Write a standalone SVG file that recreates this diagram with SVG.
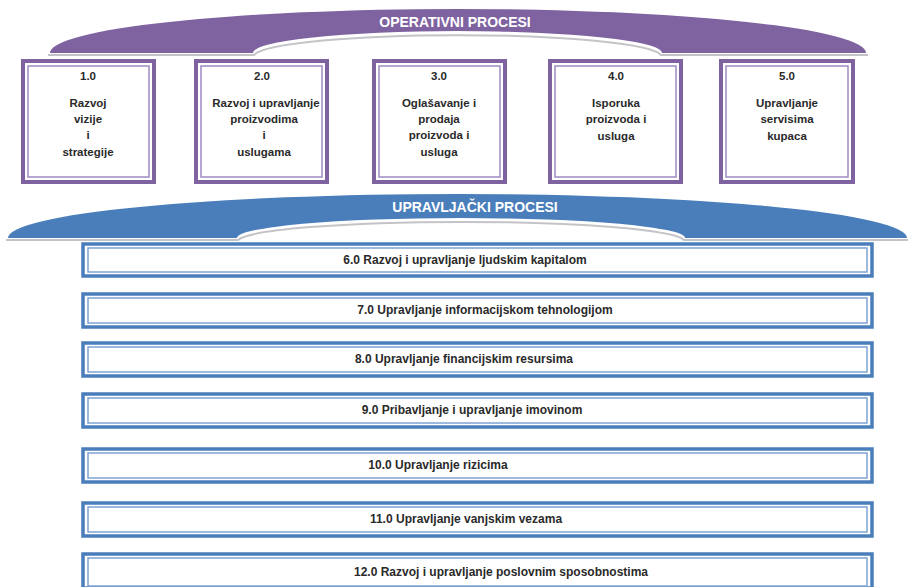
<svg xmlns="http://www.w3.org/2000/svg" width="908" height="587" viewBox="0 0 908 587">
<style>
.op{fill:#fff;stroke:#7f63a1;stroke-width:4}
.opi{fill:none;stroke:#9f8bc2;stroke-width:1.5}
.up{fill:#fff;stroke:#4a7ebb;stroke-width:3.5}
.upi{fill:none;stroke:#7ea3d3;stroke-width:1.5}
.t{font-family:"Liberation Sans",Arial,sans-serif;font-weight:bold;font-size:11.5px;fill:#2a2a2a;text-anchor:middle}
.b{font-family:"Liberation Sans",Arial,sans-serif;font-weight:bold;font-size:12px;fill:#2a2a2a;text-anchor:middle}
.h{font-family:"Liberation Sans",Arial,sans-serif;font-weight:bold;font-size:14px;fill:#fff;text-anchor:middle}
.sh{fill:none;stroke:#c4c4c8;stroke-width:2}
</style>
<rect width="908" height="587" fill="#fff"/>
<g id="operativni">
<path d="M 50 53 A 408 44 0 0 1 866 53 L 662 53 A 204.5 22 0 0 0 253 53 Z" fill="#7f63a1"/>
<path class="sh" d="M 48 55 L 254 55 A 204.5 22 0 0 1 661 55 L 868 55"/>
<text class="h" x="455" y="27">OPERATIVNI PROCESI</text>
</g>
<g id="n1">
<rect class="op" x="23" y="61" width="131" height="121"/>
<rect class="opi" x="28" y="66" width="121" height="111"/>
<text class="t" x="88" y="80">1.0</text>
<text class="t" x="88" y="107">Razvoj</text>
<text class="t" x="88" y="123">vizije</text>
<text class="t" x="88" y="139">i</text>
<text class="t" x="88" y="156">strategije</text>
</g>
<g id="n2">
<rect class="op" x="196" y="61" width="131" height="121"/>
<rect class="opi" x="201" y="66" width="121" height="111"/>
<text class="t" x="262" y="80">2.0</text>
<text class="t" x="266" y="107">Razvoj i upravljanje</text>
<text class="t" x="264" y="123">proizvodima</text>
<text class="t" x="264" y="139">i</text>
<text class="t" x="264" y="156">uslugama</text>
</g>
<g id="n3">
<rect class="op" x="374" y="61" width="131" height="121"/>
<rect class="opi" x="379" y="66" width="121" height="111"/>
<text class="t" x="439" y="80">3.0</text>
<text class="t" x="439" y="107">Oglašavanje i</text>
<text class="t" x="439" y="123">prodaja</text>
<text class="t" x="439" y="139">proizvoda i</text>
<text class="t" x="439" y="156">usluga</text>
</g>
<g id="n4">
<rect class="op" x="550" y="61" width="131" height="121"/>
<rect class="opi" x="555" y="66" width="121" height="111"/>
<text class="t" x="616" y="80">4.0</text>
<text class="t" x="616" y="107">Isporuka</text>
<text class="t" x="616" y="123">proizvoda i</text>
<text class="t" x="616" y="140">usluga</text>
</g>
<g id="n5">
<rect class="op" x="721" y="61" width="132" height="121"/>
<rect class="opi" x="726" y="66" width="122" height="111"/>
<text class="t" x="787" y="80">5.0</text>
<text class="t" x="787" y="107">Upravljanje</text>
<text class="t" x="787" y="123">servisima</text>
<text class="t" x="787" y="140">kupaca</text>
</g>
<g id="upravljacki">
<path d="M 8 238 A 449.5 44 0 0 1 907 238 L 685 238 A 224 20 0 0 0 237 238 Z" fill="#4a7ebb"/>
<path class="sh" d="M 6 240 L 238 240 A 224 20 0 0 1 684 240 L 908 240"/>
<text class="h" x="475" y="212">UPRAVLJAČKI PROCESI</text>
</g>
<g id="n6">
<rect class="up" x="83" y="244" width="789" height="32"/>
<rect class="upi" x="88" y="248" width="779" height="24"/>
<text class="b" x="465" y="264">6.0 Razvoj i upravljanje ljudskim kapitalom</text>
</g>
<g id="n7">
<rect class="up" x="83" y="294" width="789" height="33"/>
<rect class="upi" x="88" y="298" width="779" height="25"/>
<text class="b" x="485" y="314">7.0 Upravljanje informacijskom tehnologijom</text>
</g>
<g id="n8">
<rect class="up" x="83" y="343" width="789" height="33"/>
<rect class="upi" x="88" y="347" width="779" height="25"/>
<text class="b" x="464" y="363">8.0 Upravljanje financijskim resursima</text>
</g>
<g id="n9">
<rect class="up" x="83" y="394" width="789" height="33"/>
<rect class="upi" x="88" y="398" width="779" height="25"/>
<text class="b" x="472" y="414">9.0 Pribavljanje i upravljanje imovinom</text>
</g>
<g id="n10">
<rect class="up" x="83" y="449" width="789" height="33"/>
<rect class="upi" x="88" y="453" width="779" height="25"/>
<text class="b" x="438" y="469">10.0 Upravljanje rizicima</text>
</g>
<g id="n11">
<rect class="up" x="83" y="503" width="789" height="33"/>
<rect class="upi" x="88" y="507" width="779" height="25"/>
<text class="b" x="466" y="523">11.0 Upravljanje vanjskim vezama</text>
</g>
<g id="n12">
<rect class="up" x="83" y="554" width="789" height="34"/>
<rect class="upi" x="88" y="558" width="779" height="28"/>
<text class="b" x="501" y="576">12.0 Razvoj i upravljanje poslovnim sposobnostima</text>
</g>
<g id="connectors"></g>
</svg>
